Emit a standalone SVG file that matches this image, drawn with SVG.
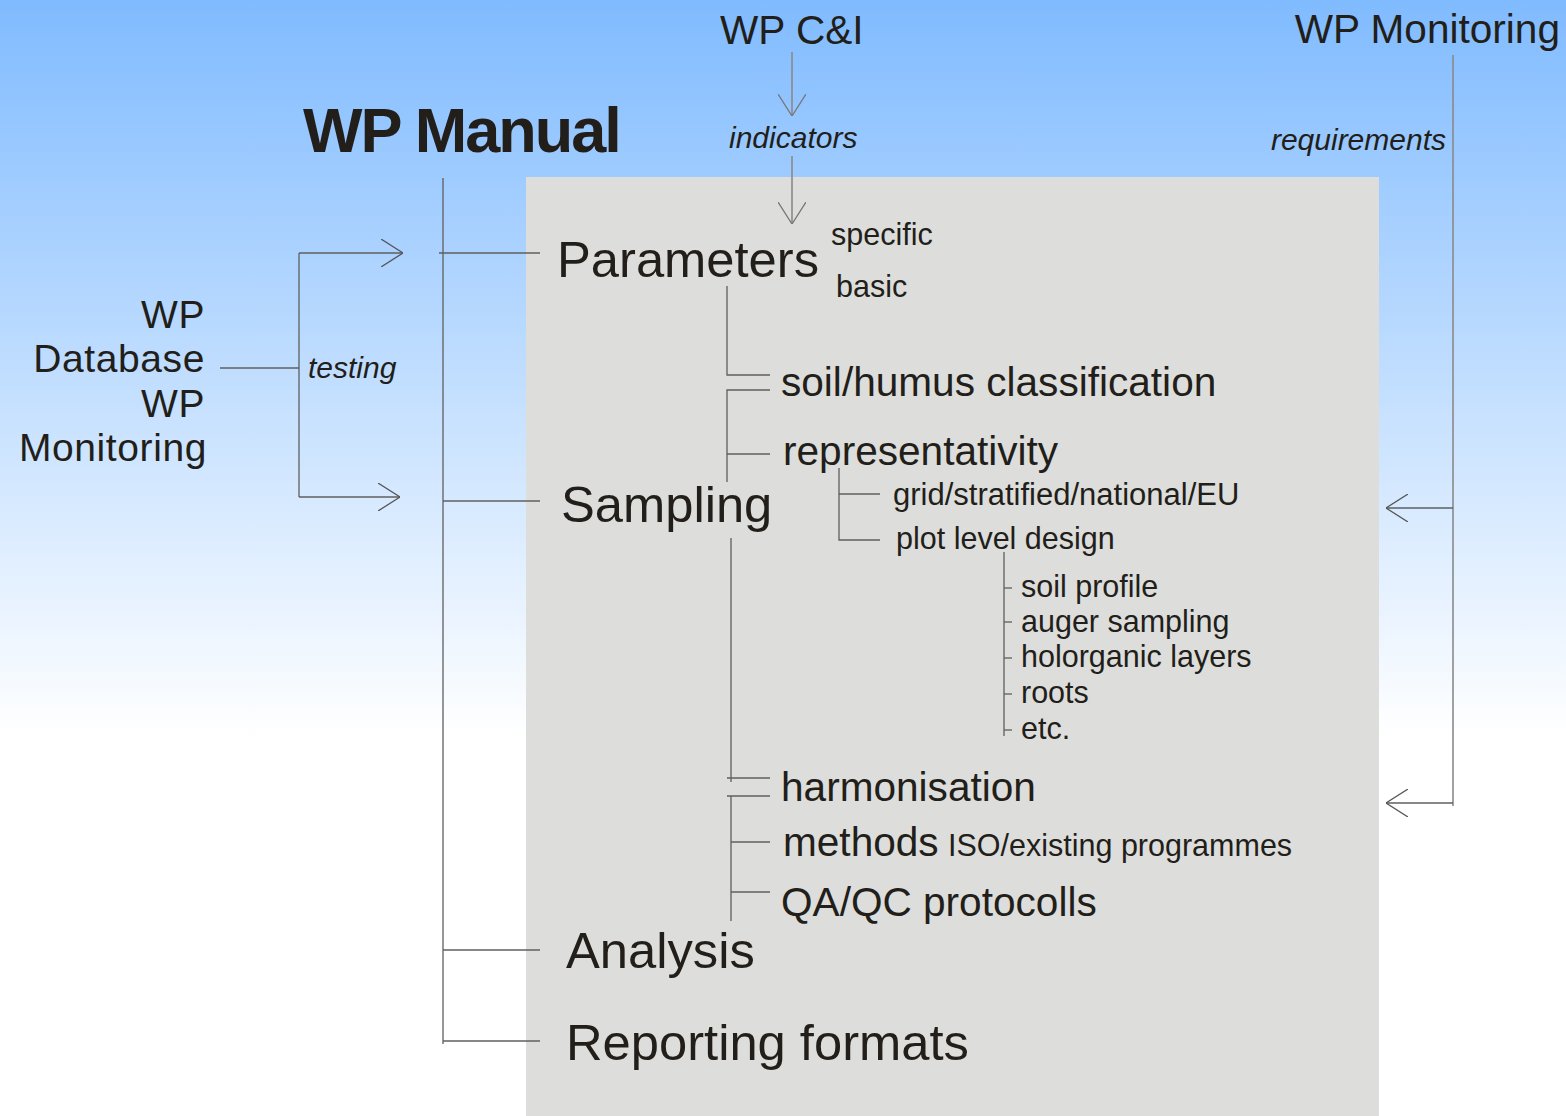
<svg xmlns="http://www.w3.org/2000/svg" width="1566" height="1116" viewBox="0 0 1566 1116">
<defs>
<linearGradient id="bg" x1="0" y1="0" x2="0" y2="1116" gradientUnits="userSpaceOnUse">
<stop offset="0" stop-color="#80bbff"/>
<stop offset="0.66" stop-color="#ffffff"/>
<stop offset="1" stop-color="#ffffff"/>
</linearGradient>
<marker id="arr" viewBox="0 0 22 28" refX="22" refY="14" markerWidth="22" markerHeight="28" markerUnits="userSpaceOnUse" orient="auto">
<path d="M0,0 L22,14 L0,28" fill="none" stroke="#555" stroke-width="1.3"/>
</marker>
<marker id="arrL" viewBox="0 0 22 28" refX="22" refY="14" markerWidth="22" markerHeight="28" markerUnits="userSpaceOnUse" orient="auto">
<path d="M0,0 L22,14 L0,28" fill="none" stroke="#777" stroke-width="1.3"/>
</marker>
</defs>
<style>
text{font-family:"Liberation Sans",Arial,sans-serif;fill:#221e1a}
.big{font-size:50.7px}
.mid{font-size:40.6px}
.lbl{font-size:39px;letter-spacing:0.6px}
.sm{font-size:30.5px}
.it{font-size:30px;font-style:italic}
.ln{stroke:#5f5f5f;stroke-width:1.3;fill:none}
.lt{stroke:#8a8a8a;stroke-width:1.6;fill:none}
</style>
<rect x="0" y="0" width="1566" height="1116" fill="url(#bg)"/>
<rect x="526" y="177" width="853" height="939" fill="#dddddb"/>

<g id="connectors">
<line class="lt" x1="792" y1="52" x2="792" y2="116" marker-end="url(#arrL)"/>
<line class="lt" x1="792" y1="156" x2="792" y2="224" marker-end="url(#arrL)"/>
<polyline class="lt" points="1453,55 1453,806"/>
<line class="ln" x1="1453" y1="508" x2="1386" y2="508" marker-end="url(#arr)"/>
<line class="ln" x1="1453" y1="803" x2="1386" y2="803" marker-end="url(#arr)"/>
<line class="ln" x1="443" y1="178" x2="443" y2="1044"/>
<line class="ln" x1="439" y1="253" x2="540" y2="253"/>
<line class="ln" x1="443" y1="501" x2="540" y2="501"/>
<line class="ln" x1="443" y1="950" x2="540" y2="950"/>
<line class="ln" x1="443" y1="1041" x2="540" y2="1041"/>
<line class="ln" x1="220" y1="368" x2="299" y2="368"/>
<line class="ln" x1="299" y1="253" x2="299" y2="497"/>
<line class="ln" x1="299" y1="253" x2="403" y2="253" marker-end="url(#arr)"/>
<line class="ln" x1="299" y1="497" x2="400" y2="497" marker-end="url(#arr)"/>
<polyline class="ln" points="727,286 727,375 770,375"/>
<polyline class="ln" points="770,390 727,390 727,482"/>
<line class="ln" x1="727" y1="454" x2="770" y2="454"/>
<polyline class="ln" points="839,468 839,540 880,540"/>
<line class="ln" x1="839" y1="494" x2="880" y2="494"/>
<line class="ln" x1="1004" y1="552" x2="1004" y2="736"/>
<line class="ln" x1="1004" y1="588" x2="1012" y2="588" stroke-width="2"/>
<line class="ln" x1="1004" y1="622" x2="1012" y2="622" stroke-width="2"/>
<line class="ln" x1="1004" y1="658" x2="1012" y2="658" stroke-width="2"/>
<line class="ln" x1="1004" y1="694" x2="1012" y2="694" stroke-width="2"/>
<line class="ln" x1="1004" y1="730" x2="1012" y2="730" stroke-width="2"/>
<line class="ln" x1="731" y1="538" x2="731" y2="782"/>
<line class="ln" x1="727" y1="778" x2="770" y2="778"/>
<line class="ln" x1="727" y1="796" x2="770" y2="796"/>
<line class="ln" x1="731" y1="796" x2="731" y2="921"/>
<line class="ln" x1="731" y1="842" x2="770" y2="842"/>
<line class="ln" x1="731" y1="892" x2="770" y2="892"/>
</g>

<g id="wp-ci"><text class="mid" x="720" y="44">WP C&amp;I</text></g>
<g id="indicators"><text class="it" x="729" y="148">indicators</text></g>
<g id="wp-monitoring-top"><text class="mid" x="1560" y="43" text-anchor="end">WP Monitoring</text></g>
<g id="requirements"><text class="it" x="1446" y="150" text-anchor="end">requirements</text></g>
<g id="wp-manual"><text x="303" y="152" font-size="63" font-weight="bold" letter-spacing="-2">WP Manual</text></g>
<g id="wp-database">
<text class="lbl" x="205" y="328" text-anchor="end">WP</text>
<text class="lbl" x="205" y="372" text-anchor="end">Database</text>
</g>
<g id="wp-monitoring-left">
<text class="lbl" x="205" y="417" text-anchor="end">WP</text>
<text class="lbl" x="207" y="461" text-anchor="end">Monitoring</text>
</g>
<g id="testing"><text class="it" x="308" y="378">testing</text></g>
<g id="parameters">
<text class="big" x="557" y="277">Parameters</text>
<text class="sm" x="831" y="245">specific</text>
<text class="sm" x="836" y="297">basic</text>
</g>
<g id="soil-humus"><text class="mid" x="781" y="396">soil/humus classification</text></g>
<g id="representativity"><text class="mid" x="783" y="465">representativity</text></g>
<g id="sampling"><text class="big" x="561" y="522">Sampling</text></g>
<g id="grid"><text x="893" y="505" font-size="31">grid/stratified/national/EU</text></g>
<g id="plot-level"><text class="sm" x="896" y="549">plot level design</text></g>
<g id="plot-items">
<text class="sm" x="1021" y="597">soil profile</text>
<text class="sm" x="1021" y="632">auger sampling</text>
<text class="sm" x="1021" y="667">holorganic layers</text>
<text class="sm" x="1021" y="703">roots</text>
<text class="sm" x="1021" y="739">etc.</text>
</g>
<g id="harmonisation"><text class="mid" x="781" y="801">harmonisation</text></g>
<g id="methods">
<text class="mid" x="783" y="856">methods</text>
<text class="sm" x="948" y="856">ISO/existing programmes</text>
</g>
<g id="qaqc"><text class="mid" x="781" y="916">QA/QC protocolls</text></g>
<g id="analysis"><text class="big" x="566" y="968">Analysis</text></g>
<g id="reporting"><text class="big" x="566" y="1060">Reporting formats</text></g>
</svg>
